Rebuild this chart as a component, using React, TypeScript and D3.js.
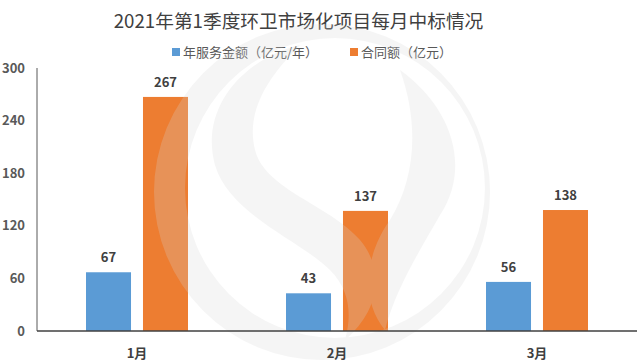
import React from 'react';
import * as d3 from 'd3';

const months = ["1月", "2月", "3月"];
const annualService = [67, 43, 56];
const contractAmount = [267, 137, 138];
const seriesNames = ["年服务金额（亿元/年）", "合同额（亿元）"];
const seriesColors = ["#5b9bd5", "#ed7d31"];
const yTicks = [0, 60, 120, 180, 240, 300];
const title = "2021年第1季度环卫市场化项目每月中标情况";

const W = 640;
const H = 362;
const FONT = "'Noto Sans CJK SC', 'Noto Sans', sans-serif";

const App = () => {
  const rows = months.map((m, i) => ({ month: m, values: [annualService[i], contractAmount[i]] }));

  const x0 = d3.scaleBand().domain(months).range([37, 637]).paddingInner(0.49).paddingOuter(0.245);
  const x1 = d3.scaleBand().domain(["0", "1"]).range([0, x0.bandwidth()]).paddingInner(0.21);
  const y = d3.scaleLinear().domain([0, 300]).range([331, 68]);

  // faint watermark logo, sits over the bars
  const ring = d3.path();
  ring.arc(322, 192, 168, 0, Math.PI * 2);
  ring.moveTo(335 + 150, 188);
  ring.arc(335, 188, 150, 0, Math.PI * 2);

  return (
    <svg width={W} height={H} style={{ display: 'block', position: 'absolute', left: 0, top: 0, background: '#fff' }}>
      <rect width={W} height={H} fill="#fff" />

      <text x={298.5} y={28} textAnchor="middle" fontFamily={FONT} fontSize={18.7} fill="#404040">{title}</text>

      {/* legend */}
      {seriesNames.map((name, i) => {
        const lx = i === 0 ? 172 : 350;
        return (
          <g key={name}>
            <rect x={lx} y={48} width={8} height={8} fill={seriesColors[i]} />
            <text x={lx + 11} y={57} fontFamily={FONT} fontSize={13} fill="#595959">{name}</text>
          </g>
        );
      })}

      {/* y tick labels */}
      {yTicks.map(t => (
        <text key={t} x={25} y={y(t) + 4.5} textAnchor="end" fontFamily={FONT} fontSize={13} fontWeight={600} fill="#595959">{t}</text>
      ))}

      {/* bars */}
      {rows.map(r => (
        <g key={r.month} transform={`translate(${x0(r.month)},0)`}>
          {r.values.map((v, i) => (
            <g key={i}>
              <rect x={x1(String(i))} y={y(v)} width={x1.bandwidth()} height={y(0) - y(v)} fill={seriesColors[i]} />
              <text x={(x1(String(i)) as number) + x1.bandwidth() / 2} y={y(v) - 10} textAnchor="middle"
                fontFamily={FONT} fontSize={13} fontWeight={600} fill="#404040">{v}</text>
            </g>
          ))}
        </g>
      ))}

      {/* watermark */}
      <g fill="#d6d6d6" opacity={0.24}>
        <path d={ring.toString()} fillRule="evenodd" />
        <path d="M300,45 C240,60 200,110 215,165 C230,215 300,240 330,270 C350,290 352,315 345,340 C380,310 385,270 360,240 C330,205 265,190 255,150 C245,110 270,75 300,45 Z" />
        <path d="M400,70 C455,110 470,170 440,215 C420,250 395,290 385,330 C360,300 365,255 390,220 C415,180 420,125 400,70 Z" />
      </g>

      {/* axes */}
      <line x1={37} x2={37} y1={y(300)} y2={y(0)} stroke="#595959" strokeWidth={1} />
      <line x1={37} x2={637} y1={y(0)} y2={y(0)} stroke="#404040" strokeWidth={1.5} />

      {/* x labels */}
      {months.map(m => (
        <text key={m} x={(x0(m) as number) + x0.bandwidth() / 2} y={358} textAnchor="middle"
          fontFamily={FONT} fontSize={13} fontWeight={600} fill="#404040">{m}</text>
      ))}
    </svg>
  );
};

export default App;
